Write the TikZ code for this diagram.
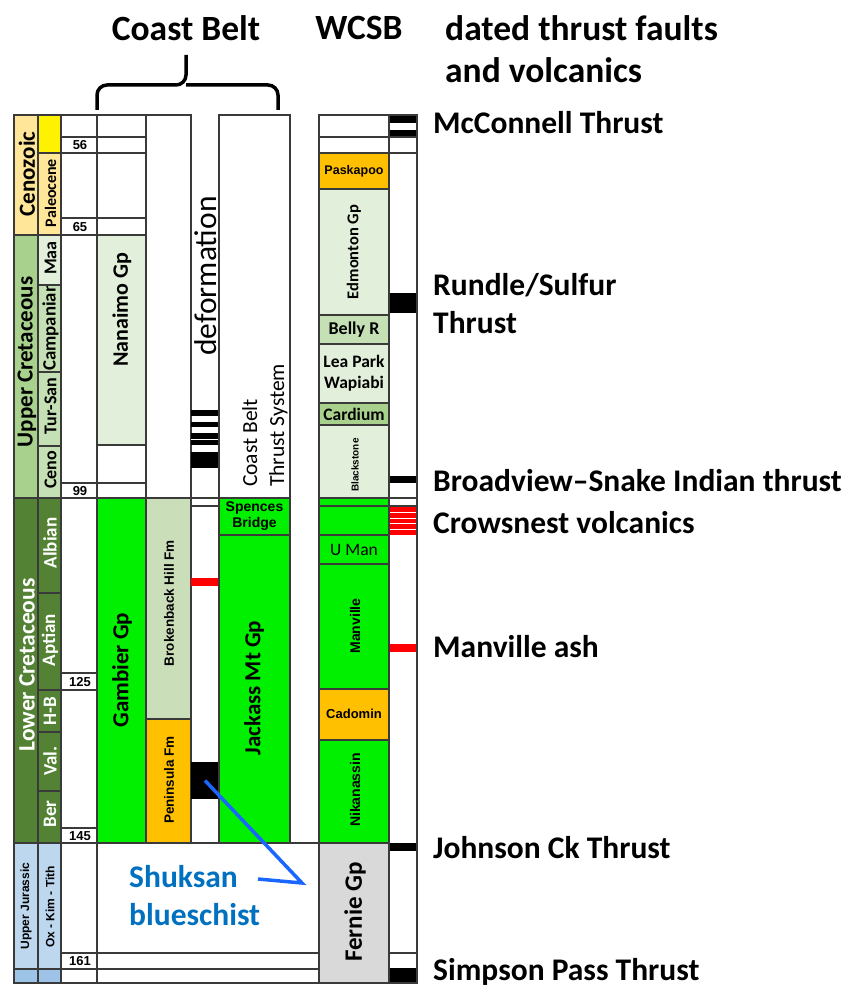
\documentclass[tikz,border=0pt]{standalone}
\usepackage{fontspec}
\setmainfont{Carlito}
\newfontfamily\arl{Liberation Sans}
\definecolor{ceno}{HTML}{FFE699}
\definecolor{ucret}{HTML}{A9D18E}
\definecolor{ucst}{HTML}{C5E0B4}
\definecolor{lgreen}{HTML}{E2EFDA}
\definecolor{lcret}{HTML}{548235}
\definecolor{jur}{HTML}{BDD7EE}
\definecolor{jurb}{HTML}{9DC3E6}
\definecolor{bgreen}{HTML}{00F000}
\definecolor{orng}{HTML}{FFC000}
\definecolor{brk}{HTML}{CADEBA}
\definecolor{grid}{HTML}{3A3A3A}
\definecolor{fern}{HTML}{D9D9D9}
\definecolor{blu}{HTML}{0070C0}
\definecolor{bline}{HTML}{1A66FF}
\definecolor{redb}{HTML}{FF0000}
\tikzset{
  cell/.style={draw=grid, line width=1.1pt, inner sep=0pt, outer sep=0pt, anchor=north west},
  rot/.style={rotate=90, inner sep=0pt},
  lbl/.style={font=\bfseries\fontsize{31.5}{34}\selectfont, anchor=west, inner sep=0pt},
  hdr/.style={font=\bfseries\fontsize{35.5}{38}\selectfont, inner sep=0pt},
  stg/.style={rotate=90, inner sep=0pt, font=\bfseries\fontsize{18}{19}\selectfont},
  stgw/.style={rotate=90, inner sep=0pt, font=\bfseries\fontsize{19}{20}\selectfont, text=white},
  nlab/.style={font=\arl\bfseries\fontsize{13}{14}\selectfont, inner sep=0pt},
}
\newcommand\cellbox[6]{\node[cell,minimum width={#4pt-#2pt},minimum height={#5pt-#3pt},#6] (#1) at (#2,#3) {};}
\begin{document}
\begin{tikzpicture}[x=1pt,y=-1pt]
\useasboundingbox[fill=white] (0,0) rectangle (846,987);

% ---------------- header ----------------
\node[hdr] (hcoast) at (186,28) {Coast Belt};
\node[hdr] (hwcsb) at (359,28) {WCSB};
\node[hdr, anchor=west] (hdated) at (445,28) {dated thrust faults};
\node[hdr, anchor=west] (hvolc) at (445,70) {and volcanics};
\draw[line width=3.5pt, rounded corners=10pt] (97,110) -- (97,85) -- (186,85) -- (186,55);
\draw[line width=3.5pt, rounded corners=10pt] (278,110) -- (278,85) -- (186,85);

% ---------------- era column ----------------
\cellbox{eraC}{14}{115}{38}{235}{fill=ceno}
\cellbox{eraUK}{14}{235}{38}{498}{fill=ucret}
\cellbox{eraLK}{14}{498}{38}{843}{fill=lcret}
\cellbox{eraJ}{14}{843}{38}{969}{fill=jur}
\cellbox{eraB}{14}{969}{38}{983}{fill=jurb}
\node[rot, font=\bfseries\fontsize{23}{24}\selectfont] (tC) at (27,174) {Cenozoic};
\node[rot, font=\bfseries\fontsize{23}{24}\selectfont] (tUK) at (27,362) {Upper Cretaceous};
\node[rot, font=\bfseries\fontsize{23.5}{24}\selectfont, text=white] (tLK) at (27,665) {Lower Cretaceous};
\node[rot, font=\arl\bfseries\fontsize{12}{13}\selectfont] (tJ) at (26,906) {Upper Jurassic};

% ---------------- stage column ----------------
\cellbox{sY}{38}{115}{61}{153}{fill=yellow}
\cellbox{sPal}{38}{153}{61}{235}{fill=ceno}
\cellbox{sMaa}{38}{235}{61}{285}{fill=lgreen}
\cellbox{sCam}{38}{285}{61}{372}{fill=ucst}
\cellbox{sTur}{38}{372}{61}{446}{fill=ucst}
\cellbox{sCen}{38}{446}{61}{498}{fill=ucst}
\cellbox{sAlb}{38}{498}{61}{593}{fill=lcret}
\cellbox{sApt}{38}{593}{61}{690}{fill=lcret}
\cellbox{sHB}{38}{690}{61}{732}{fill=lcret}
\cellbox{sVal}{38}{732}{61}{791}{fill=lcret}
\cellbox{sBer}{38}{791}{61}{843}{fill=lcret}
\cellbox{sJ}{38}{843}{61}{969}{fill=jur}
\cellbox{sB}{38}{969}{61}{983}{fill=jurb}
\node[rot, font=\bfseries\fontsize{16}{17}\selectfont] (tPal) at (50.5,193) {Paleocene};
\node[stg] (tMaa) at (50.5,258) {Maa};
\begin{scope}
\clip (38,285.5) rectangle (61,372);
\node[stg, anchor=west, font=\bfseries\fontsize{18.8}{19}\selectfont] (tCamp) at (50.5,371) {Campanian};
\end{scope}
\draw[grid, line width=1.1pt] (38,285) -- (61,285);
\node[stg] (tTur) at (50.5,406) {Tur-San};
\node[stg] (tCen) at (50.5,470) {Ceno};
\node[stgw] (tAlb) at (50,543) {Albian};
\node[stgw] (tApt) at (50,640) {Aptian};
\node[stgw] (tHB) at (50,711) {H-B};
\node[stgw] (tVal) at (50,761) {Val.};
\node[stgw] (tBer) at (50,814) {Ber};
\node[rot, font=\arl\bfseries\fontsize{12}{13}\selectfont] (tOx) at (50,907) {Ox - Kim - Tith};

% ---------------- number column ----------------
\cellbox{num}{61}{115}{97}{983}{fill=white}
\foreach \yy in {137,153,218,235,483,498,673,690,828,843,953,969}
  \draw[grid, line width=1.1pt] (61,\yy) -- (97,\yy);
\foreach \yy/\nn/\lab in {145.5/n56/56, 227/n65/65, 491/n99/99, 682/n125/125, 836/n145/145, 961.5/n161/161}
  \node[nlab] (\nn) at (80,\yy) {\lab};

% ---------------- column A (Nanaimo / Gambier) ----------------
\cellbox{colA}{97}{115}{146}{498}{fill=white}
\foreach \yy in {137,153,218,235,483}
  \draw[grid, line width=1.1pt] (97,\yy) -- (146,\yy);
\cellbox{nanaimo}{97}{235}{146}{445}{fill=lgreen}
\cellbox{gambier}{97}{498}{146}{843}{fill=bgreen}
\node[rot, font=\bfseries\fontsize{22}{23}\selectfont] (tNan) at (122,310) {Nanaimo Gp};
\node[rot, font=\bfseries\fontsize{23}{24}\selectfont] (tGam) at (122,670) {Gambier Gp};

% ---------------- column B ----------------
\cellbox{colB}{146}{115}{191}{498}{fill=white}
\cellbox{broken}{146}{498}{191}{719}{fill=brk}
\cellbox{penin}{146}{719}{191}{843}{fill=orng}
\node[rot, font=\arl\bfseries\fontsize{13.5}{14}\selectfont] (tBrk) at (169,603) {Brokenback Hill Fm};
\node[rot, font=\arl\bfseries\fontsize{13.5}{14}\selectfont] (tPen) at (169,780) {Peninsula Fm};

% ---------------- column C (deformation) ----------------
\fill[white] (191,115) rectangle (219,843);
\draw[grid, line width=1.1pt] (191,115) -- (191,843) (219,115) -- (219,843);
\draw[grid, line width=1.1pt] (191,498) -- (219,498) (191,506) -- (219,506);
\node[rot, font=\fontsize{31.5}{33}\selectfont] (tDef) at (206,276) {deformation};
\fill[black] (191,410) rectangle (219,416);
\fill[black] (191,422) rectangle (219,427);
\fill[black] (191,433) rectangle (219,445);
\fill[black] (191,452) rectangle (219,468);
\draw[white, line width=1pt] (191,439) -- (219,439);
\fill[redb] (191,578) rectangle (219,586);
\node[fill=black, minimum width=28pt, minimum height=37pt, inner sep=0pt, outer sep=0pt] (shuk) at (205,780.5) {};
\draw[line width=1.1pt] (222,405) -- (228,405) -- (228,475) -- (222,475) (228,440) -- (234,440);

% ---------------- column D ----------------
\cellbox{colD}{219}{115}{290}{498}{fill=white}
\cellbox{spences}{219}{498}{290}{535}{fill=bgreen}
\cellbox{jackass}{219}{535}{290}{843}{fill=bgreen}
\node[rot, anchor=base west, font=\fontsize{21.5}{22}\selectfont] (tCB) at (257,487) {Coast Belt};
\node[rot, anchor=base west, font=\fontsize{21.5}{22}\selectfont] (tTS) at (284,487) {Thrust System};
\node[font=\arl\bfseries\fontsize{14}{16}\selectfont, align=center, inner sep=0pt] (tSp) at (254.5,516.5) {Spences\\Bridge};
\node[rot, font=\bfseries\fontsize{23}{24}\selectfont] (tJack) at (254,688) {Jackass Mt Gp};

% ---------------- bottom block ----------------
\cellbox{bottom}{97}{843}{319}{983}{fill=white}
\draw[grid, line width=1.1pt] (97,953) -- (319,953) (97,969) -- (319,969);

% ---------------- WCSB column ----------------
\cellbox{w0}{319}{115}{389}{137}{fill=white}
\cellbox{w1}{319}{137}{389}{153}{fill=white}
\cellbox{pask}{319}{153}{389}{189}{fill=orng}
\cellbox{edm}{319}{189}{389}{315}{fill=lgreen}
\cellbox{belly}{319}{315}{389}{344}{fill=ucst}
\cellbox{lea}{319}{344}{389}{403}{fill=lgreen}
\cellbox{card}{319}{403}{389}{425}{fill=ucret}
\cellbox{black}{319}{425}{389}{498}{fill=lgreen}
\cellbox{w2}{319}{498}{389}{506}{fill=bgreen}
\cellbox{w3}{319}{506}{389}{535}{fill=bgreen}
\cellbox{uman}{319}{535}{389}{564}{fill=bgreen}
\cellbox{manv}{319}{564}{389}{689}{fill=bgreen}
\cellbox{cado}{319}{689}{389}{740}{fill=orng}
\cellbox{nika}{319}{740}{389}{843}{fill=bgreen}
\cellbox{fern}{319}{843}{389}{983}{fill=fern}
\node[font=\arl\bfseries\fontsize{12.5}{13}\selectfont, inner sep=0pt] (tPask) at (354,171) {Paskapoo};
\node[rot, font=\bfseries\fontsize{16.5}{17}\selectfont] (tEdm) at (354,252) {Edmonton Gp};
\node[font=\bfseries\fontsize{18}{19}\selectfont, inner sep=0pt] (tBel) at (354,329.5) {Belly R};
\node[font=\bfseries\fontsize{17.5}{21}\selectfont, align=center, inner sep=0pt] (tLea) at (354,373) {Lea Park\\Wapiabi};
\node[font=\bfseries\fontsize{17.5}{18}\selectfont, inner sep=0pt] (tCar) at (354,414) {Cardium};
\node[rot, font=\arl\bfseries\fontsize{10}{11}\selectfont] (tBla) at (355,465) {Blackstone};
\node[font=\fontsize{17.5}{18}\selectfont, inner sep=0pt] (tUM) at (354,549.5) {U Man};
\node[rot, font=\arl\bfseries\fontsize{14}{15}\selectfont] (tMan) at (355,626) {Manville};
\node[font=\arl\bfseries\fontsize{13}{14}\selectfont, inner sep=0pt] (tCad) at (354,714) {Cadomin};
\node[rot, font=\arl\bfseries\fontsize{14}{15}\selectfont] (tNik) at (355,790) {Nikanassin};
\node[rot, font=\bfseries\fontsize{25}{26}\selectfont] (tFer) at (355,912) {Fernie Gp};

% ---------------- thrust column ----------------
\cellbox{thr}{389}{115}{417}{983}{fill=white}
\fill[black] (389,115) rectangle (417,123);
\fill[black] (389,130) rectangle (417,137);
\draw[grid, line width=1.1pt] (389,137) -- (417,137) (389,153) -- (417,153) (389,498) -- (417,498) (389,506) -- (417,506) (389,953) -- (417,953);
\fill[black] (389,293) rectangle (417,313);
\fill[black] (389,476) rectangle (417,483);
\foreach \ya/\yb in {507/512, 513/518, 519/523, 524/529, 530/535}
  \fill[redb] (389,\ya) rectangle (417,\yb);
\fill[redb] (389,644) rectangle (417,652);
\fill[black] (389,843) rectangle (417,851);
\fill[black] (389,968) rectangle (417,983);
\draw[grid, line width=1.1pt] (389,115) rectangle (417,983);

% ---------------- right labels ----------------
\node[lbl] (lMc) at (433,123) {McConnell Thrust};
\node[lbl] (lRu) at (433,285) {Rundle/Sulfur};
\node[lbl] (lRu2) at (433,323) {Thrust};
\node[lbl] (lBr) at (433,481) {Broadview–Snake Indian thrust};
\node[lbl] (lCr) at (433,523) {Crowsnest volcanics};
\node[lbl] (lMa) at (433,647) {Manville ash};
\node[lbl] (lJo) at (433,848) {Johnson Ck Thrust};
\node[lbl, anchor=base west] (lSi) at (433,980) {Simpson Pass Thrust};

% ---------------- Shuksan ----------------
\coordinate (bend) at (302,883);
\coordinate (lend) at (258,879);
\draw[bline, line width=3.5pt] (shuk.center) -- (bend) -- (lend);
\node[font=\bfseries\fontsize{31.5}{36}\selectfont, text=blu, anchor=base west, inner sep=0pt] (tShuk) at (129,887) {Shuksan};
\node[font=\bfseries\fontsize{31.5}{36}\selectfont, text=blu, anchor=base west, inner sep=0pt] (tBlue) at (129,925) {blueschist};
\end{tikzpicture}
\end{document}
